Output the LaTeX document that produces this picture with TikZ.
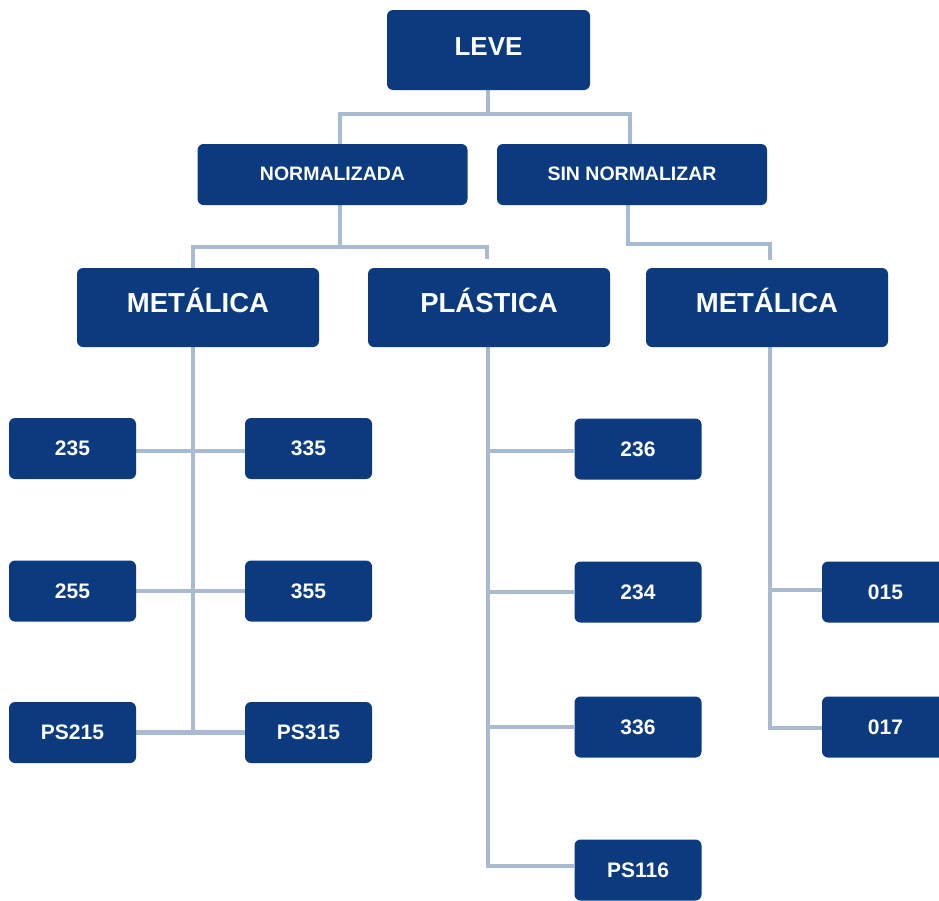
\documentclass[tikz,border=0pt]{standalone}
\usepackage{fontspec}
\setmainfont{Liberation Sans}
\usetikzlibrary{backgrounds}
\definecolor{boxblue}{HTML}{0B3A7F}
\definecolor{linegray}{HTML}{A8BBD1}
\tikzset{
  box/.style={draw=none, fill=boxblue, rounded corners=6pt, inner sep=0pt,
    text=white, font=\bfseries, align=center},
  big/.style={box, minimum width=242pt, minimum height=79pt, font=\bfseries\fontsize{27.5}{30}\selectfont,
    text height=19.7pt, text depth=10pt},
  mid/.style={box, minimum width=270pt, minimum height=61pt, font=\bfseries\fontsize{19.5}{22}\selectfont,
    text height=14pt, text depth=3pt},
  small/.style={box, minimum width=127pt, minimum height=61pt, font=\bfseries\fontsize{21}{24}\selectfont,
    text height=15pt, text depth=1pt},
  topbox/.style={box, minimum width=203pt, minimum height=80pt, font=\bfseries\fontsize{26}{29}\selectfont,
    text height=18.6pt, text depth=8pt},
  conn/.style={draw=linegray, line width=4.5pt}
}
\begin{document}
\begin{tikzpicture}[x=1pt,y=-1pt]
\useasboundingbox (0,0) rectangle (939,900);
% nodes
\node[topbox] (leve) at (488.5,50) {LEVE};
\node[mid] (norm) at (332.5,174.5) {NORMALIZADA};
\node[mid] (sinn) at (632,174.5) {SIN NORMALIZAR};
\node[big] (met1) at (198,307.5) {METÁLICA};
\node[big] (plas) at (489,307.5) {PLÁSTICA};
\node[big] (met2) at (767,307.5) {METÁLICA};
\node[small] (n235) at (72.5,448.5) {235};
\node[small] (n335) at (308.5,448.5) {335};
\node[small] (n255) at (72.5,591) {255};
\node[small] (n355) at (308.5,591) {355};
\node[small] (ps215) at (72.5,732.5) {PS215};
\node[small] (ps315) at (308.5,732.5) {PS315};
\node[small] (n236) at (638,449) {236};
\node[small] (n234) at (638,592) {234};
\node[small] (n336) at (638,727) {336};
\node[small] (ps116) at (638,870) {PS116};
\node[small] (n015) at (885.5,592) {015};
\node[small] (n017) at (885.5,727) {017};
% junction and free-end coordinates
\coordinate (j1) at (488,114);
\coordinate (j2) at (340,247);
\coordinate (e1) at (487,259);
\coordinate (j3) at (628,244);
\coordinate (e2) at (770,260);
\begin{pgfonlayer}{background}
% top level
\draw[conn] (leve.south -| j1) -- (j1);
\draw[conn] ([xshift=7.5pt]norm.north) |- (j1) -| ([xshift=-2pt]sinn.north);
% normalizada branch
\draw[conn] (norm.south -| j2) -- (j2);
\draw[conn] ([xshift=-5pt]met1.north) |- (j2) -| (e1);
% sin normalizar branch
\draw[conn] (sinn.south -| j3) -- (j3) -| (e2);
% left column
\draw[conn] ([xshift=-5pt]met1.south) -- ([xshift=-5pt]met1.south |- ps215.east);
\draw[conn] ([yshift=-2.5pt]n235.east) -- ([yshift=-2.5pt]n335.west);
\draw[conn] (n255.east) -- (n355.west);
\draw[conn] (ps215.east) -- (ps315.west);
% middle column
\draw[conn] ([xshift=-1pt]plas.south) |- ([yshift=4pt]ps116.west);
\draw[conn] ([yshift=-2pt]n236.west) -- ([yshift=-2pt,xshift=-1pt]n236.west -| plas.south);
\draw[conn] (n234.west) -- ([xshift=-1pt]n234.west -| plas.south);
\draw[conn] (n336.west) -- ([xshift=-1pt]n336.west -| plas.south);
% right column
\draw[conn] ([xshift=3pt]met2.south) |- ([yshift=-1pt]n017.west);
\draw[conn] ([yshift=2pt]n015.west) -- ([yshift=2pt,xshift=3pt]n015.west -| met2.south);
\end{pgfonlayer}
\end{tikzpicture}
\end{document}
